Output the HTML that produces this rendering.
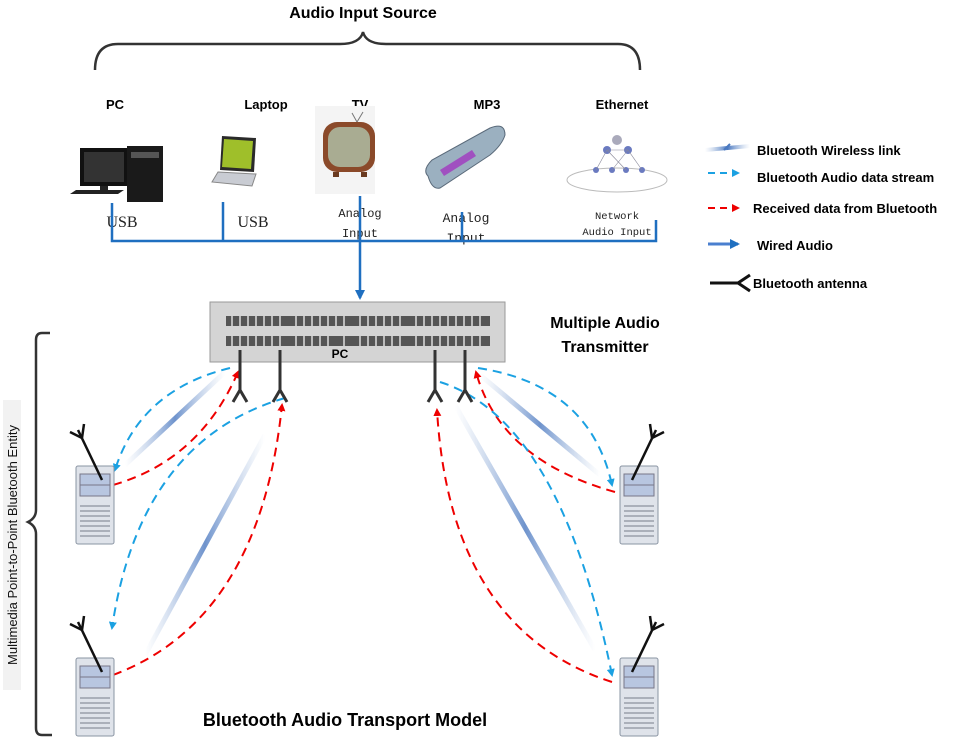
<!DOCTYPE html>
<html><head><meta charset="utf-8"><style>
html,body{margin:0;padding:0;background:#fff}
svg{display:block}
.b{font-family:"Liberation Sans",sans-serif;font-weight:bold;fill:#000}
.m{font-family:"Liberation Mono",monospace;fill:#222}
.s{font-family:"Liberation Serif",serif;fill:#222}
</style></head><body>
<svg width="964" height="742" viewBox="0 0 964 742" xmlns="http://www.w3.org/2000/svg">
<defs>
<marker id="ab" markerWidth="8" markerHeight="8" refX="6" refY="4" orient="auto" markerUnits="userSpaceOnUse"><path d="M0,0 L8,4 L0,8z" fill="#1ba1e2"/></marker>
<marker id="ar" markerWidth="8" markerHeight="8" refX="6" refY="4" orient="auto" markerUnits="userSpaceOnUse"><path d="M0,0 L8,4 L0,8z" fill="#e00"/></marker>
<marker id="aw" markerWidth="10" markerHeight="10" refX="8" refY="5" orient="auto" markerUnits="userSpaceOnUse"><path d="M0,0 L10,5 L0,10z" fill="#1f6fc0"/></marker>
<linearGradient id="bt" x1="0" y1="0" x2="1" y2="0"><stop offset="0" stop-color="#9cb6dc" stop-opacity="0"/><stop offset=".5" stop-color="#4a78c0"/><stop offset="1" stop-color="#9cb6dc" stop-opacity="0"/></linearGradient>
<g id="srv">
<rect x="0" y="0" width="38" height="78" rx="2" fill="#dfe3ea" stroke="#8a94a3"/>
<rect x="4" y="8" width="30" height="22" fill="#b8c6e0" stroke="#778"/>
<line x1="4" y1="19" x2="34" y2="19" stroke="#778"/>
<g stroke="#9aa0aa" stroke-width="1.5"><line x1="4" y1="40" x2="34" y2="40"/><line x1="4" y1="45" x2="34" y2="45"/><line x1="4" y1="50" x2="34" y2="50"/><line x1="4" y1="55" x2="34" y2="55"/><line x1="4" y1="60" x2="34" y2="60"/><line x1="4" y1="65" x2="34" y2="65"/><line x1="4" y1="70" x2="34" y2="70"/></g>
<line x1="26" y1="14" x2="2" y2="-36" stroke="#111" stroke-width="2.5"/>
<path d="M6,-28 L-6,-34 M6,-28 L8,-42" stroke="#111" stroke-width="2.5" fill="none"/>
</g>
<g id="ant"><line x1="0" y1="0" x2="0" y2="42" stroke="#333" stroke-width="3"/><path d="M-7,52 L0,40 L7,52" stroke="#333" stroke-width="3" fill="none"/></g>
</defs>

<text class="b" x="363" y="18" font-size="16" text-anchor="middle">Audio Input Source</text>
<path d="M95,70 Q95,44 118,44 L340,44 Q360,44 363,32 Q366,44 386,44 L618,44 Q640,44 640,70" fill="none" stroke="#333" stroke-width="2.5"/>

<g font-size="13">
<text class="b" x="115" y="109" text-anchor="middle">PC</text>
<text class="b" x="266" y="109" text-anchor="middle">Laptop</text>
<text class="b" x="360" y="109" text-anchor="middle">TV</text>
<text class="b" x="487" y="109" text-anchor="middle">MP3</text>
<text class="b" x="622" y="109" text-anchor="middle">Ethernet</text>
</g>

<rect x="80" y="148" width="48" height="38" fill="#111"/><rect x="84" y="152" width="40" height="30" fill="#333"/>
<rect x="100" y="186" width="8" height="6" fill="#222"/><path d="M70,194 L118,194 L124,190 L76,190z" fill="#222"/>
<rect x="127" y="146" width="36" height="56" fill="#1a1a1a"/><rect x="131" y="152" width="28" height="6" fill="#555"/>
<path d="M222,136 L256,138 L254,172 L220,170z" fill="#2a2a2a"/><path d="M224,139 L253,141 L251,169 L222,167z" fill="#9fbf2a"/>
<path d="M218,172 L256,174 L252,186 L212,182z" fill="#c9ccd3" stroke="#888"/>
<rect x="315" y="106" width="60" height="88" fill="#f4f4f4"/>
<path d="M352,113 L357,122 L363,112" stroke="#777" fill="none"/>
<rect x="323" y="122" width="52" height="50" rx="14" fill="#8b4a2a"/>
<rect x="328" y="127" width="42" height="40" rx="12" fill="#a9ac92"/>
<rect x="333" y="172" width="6" height="5" fill="#6a3a20"/><rect x="361" y="172" width="6" height="5" fill="#6a3a20"/>
<path d="M428,176 Q422,170 432,160 L490,128 Q505,122 505,135 Q502,145 490,155 L440,188 Q432,190 428,176z" fill="#9bb0c0" stroke="#5a6a7a"/>
<path d="M440,170 L472,150 L476,156 L444,176z" fill="#a050c0"/>
<ellipse cx="617" cy="180" rx="50" ry="12" fill="none" stroke="#bbb"/>
<g fill="#6a7ac0"><circle cx="607" cy="150" r="4"/><circle cx="628" cy="150" r="4"/><circle cx="596" cy="170" r="3"/><circle cx="612" cy="170" r="3"/><circle cx="626" cy="170" r="3"/><circle cx="642" cy="170" r="3"/><circle cx="617" cy="140" r="5" fill="#aab"/></g>
<g stroke="#889" stroke-width=".6"><line x1="607" y1="150" x2="596" y2="170"/><line x1="607" y1="150" x2="626" y2="170"/><line x1="628" y1="150" x2="612" y2="170"/><line x1="628" y1="150" x2="642" y2="170"/><line x1="607" y1="150" x2="628" y2="150"/></g>

<text class="s" x="122" y="227" font-size="16" text-anchor="middle">USB</text>
<text class="s" x="253" y="227" font-size="16" text-anchor="middle">USB</text>
<text class="m" x="360" y="217" font-size="12" text-anchor="middle">Analog</text>
<text class="m" x="360" y="237" font-size="12" text-anchor="middle">Input</text>
<text class="m" x="466" y="222" font-size="13" text-anchor="middle">Analog</text>
<text class="m" x="466" y="242" font-size="13" text-anchor="middle">Input</text>
<text class="m" x="617" y="219" font-size="10.5" text-anchor="middle">Network</text>
<text class="m" x="617" y="235" font-size="10.5" text-anchor="middle">Audio Input</text>

<g stroke="#1f6fc0" stroke-width="2.5" fill="none">
<path d="M112,203 L112,241 L656,241 L656,220"/>
<line x1="223" y1="202" x2="223" y2="241"/>
<line x1="462" y1="212" x2="462" y2="241"/>
<line x1="360" y1="196" x2="360" y2="298" marker-end="url(#aw)"/>
</g>

<rect x="210" y="302" width="295" height="60" fill="#d4d4d4" stroke="#999"/>
<rect x="226" y="316" width="264" height="10" fill="#555"/>
<rect x="226" y="336" width="264" height="10" fill="#555"/>
<g stroke="#ddd" stroke-width="1.5"><path d="M232,316v10M240,316v10M248,316v10M256,316v10M264,316v10M272,316v10M280,316v10M296,316v10M304,316v10M312,316v10M320,316v10M328,316v10M336,316v10M344,316v10M360,316v10M368,316v10M376,316v10M384,316v10M392,316v10M400,316v10M416,316v10M424,316v10M432,316v10M440,316v10M448,316v10M456,316v10M464,316v10M472,316v10M480,316v10"/>
<path d="M232,336v10M240,336v10M248,336v10M256,336v10M264,336v10M272,336v10M280,336v10M296,336v10M304,336v10M312,336v10M320,336v10M328,336v10M344,336v10M360,336v10M368,336v10M376,336v10M384,336v10M392,336v10M400,336v10M416,336v10M424,336v10M432,336v10M440,336v10M448,336v10M456,336v10M464,336v10M472,336v10M480,336v10"/></g>
<text class="b" x="340" y="358" font-size="12" text-anchor="middle">PC</text>
<text class="b" x="605" y="328" font-size="16" text-anchor="middle">Multiple Audio</text>
<text class="b" x="605" y="352" font-size="16" text-anchor="middle">Transmitter</text>

<path d="M50,333 L42,333 Q36,333 36,340 L36,510 Q36,518 28,522 Q36,526 36,534 L36,728 Q36,735 42,735 L52,735" fill="none" stroke="#333" stroke-width="2.5"/>
<rect x="3" y="400" width="18" height="290" fill="#f2f2f2"/>
<text x="17" y="545" font-family="Liberation Sans,sans-serif" font-size="13" fill="#111" text-anchor="middle" transform="rotate(-90 17 545)">Multimedia Point-to-Point Bluetooth Entity</text>

<g stroke="url(#bt)" stroke-width="5" opacity=".8">
<line x1="125" y1="465" x2="225" y2="372"/>
<line x1="145" y1="655" x2="265" y2="435"/>
<line x1="480" y1="375" x2="600" y2="475"/>
<line x1="455" y1="405" x2="595" y2="650"/>
</g>

<g fill="none" stroke-width="2" stroke-dasharray="9,6">
<path d="M230,368 Q140,390 115,470" stroke="#1ba1e2" marker-end="url(#ab)"/>
<path d="M113,485 Q200,460 238,372" stroke="#e00" marker-end="url(#ar)"/>
<path d="M285,398 Q140,440 112,628" stroke="#1ba1e2" marker-end="url(#ab)"/>
<path d="M113,675 Q260,620 282,405" stroke="#e00" marker-end="url(#ar)"/>
<path d="M478,368 Q590,385 612,485" stroke="#1ba1e2" marker-end="url(#ab)"/>
<path d="M615,492 Q500,460 476,372" stroke="#e00" marker-end="url(#ar)"/>
<path d="M440,382 Q560,420 612,675" stroke="#1ba1e2" marker-end="url(#ab)"/>
<path d="M612,682 Q450,630 437,410" stroke="#e00" marker-end="url(#ar)"/>
</g>

<use href="#ant" x="240" y="350"/>
<use href="#ant" x="280" y="350"/>
<use href="#ant" x="435" y="350"/>
<use href="#ant" x="465" y="350"/>

<use href="#srv" x="76" y="466"/>
<use href="#srv" x="76" y="658"/>
<use href="#srv" transform="translate(658,466) scale(-1,1)"/>
<use href="#srv" transform="translate(658,658) scale(-1,1)"/>

<text class="b" x="345" y="726" font-size="18" text-anchor="middle">Bluetooth Audio Transport Model</text>

<line x1="705" y1="150" x2="750" y2="146" stroke="url(#bt)" stroke-width="4"/>
<path d="M724,150 L730,144" stroke="#4a78c0" stroke-width="2"/>
<line x1="708" y1="173" x2="738" y2="173" stroke="#1ba1e2" stroke-width="2" stroke-dasharray="7,5" marker-end="url(#ab)"/>
<line x1="708" y1="208" x2="738" y2="208" stroke="#e00" stroke-width="2" stroke-dasharray="7,5" marker-end="url(#ar)"/>
<line x1="708" y1="244" x2="738" y2="244" stroke="#4a7fcf" stroke-width="3" marker-end="url(#aw)"/>
<path d="M710,283 L738,283 L750,275 M738,283 L750,291" stroke="#111" stroke-width="3" fill="none"/>
<g font-size="13">
<text class="b" x="757" y="155">Bluetooth Wireless link</text>
<text class="b" x="757" y="182">Bluetooth Audio data stream</text>
<text class="b" x="753" y="213">Received data from Bluetooth</text>
<text class="b" x="757" y="250">Wired Audio</text>
<text class="b" x="753" y="288">Bluetooth antenna</text>
</g>
</svg>
</body></html>
